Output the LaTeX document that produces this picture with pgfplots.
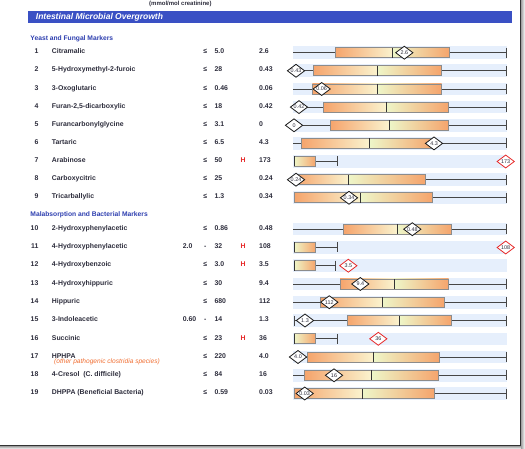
\documentclass[border=0pt]{standalone}
\usepackage{pgfplots}
\pgfplotsset{compat=1.18}
\usepackage{fontspec}
\setmainfont{Liberation Sans}
\definecolor{titlebg}{RGB}{58,80,196}
\definecolor{hdr}{RGB}{45,62,175}
\definecolor{txt}{RGB}{45,45,60}
\definecolor{band}{RGB}{230,239,252}
\definecolor{boxO}{RGB}{245,164,108}
\definecolor{boxL}{RGB}{250,243,206}
\definecolor{boxR}{RGB}{238,246,200}
\definecolor{boxedge}{RGB}{140,140,140}
\definecolor{whisk}{RGB}{70,70,70}
\definecolor{hired}{RGB}{230,40,40}
\definecolor{subor}{RGB}{240,110,50}
\newcommand{\rf}{\fontsize{6.9}{8}\selectfont\bfseries}

% full box row: yc, lw, q1, med, q3, uw
\newcommand{\brow}[6]{%
 \pgfmathsetmacro\bT{#1-6.3}\pgfmathsetmacro\bB{#1+6.3}%
 \pgfmathsetmacro\xT{#1-5}\pgfmathsetmacro\xB{#1+5}%
 \edef\doit{%
  \noexpand\addplot[draw=none,fill=band] coordinates {(293,\bT)(507,\bT)(507,\bB)(293,\bB)} -- cycle;
  \noexpand\addplot[whisk, line width=0.7pt] coordinates {(#2,#1)(#3,#1)};
  \noexpand\addplot[whisk, line width=0.7pt] coordinates {(#5,#1)(#6,#1)};
  \noexpand\addplot[whisk, line width=0.9pt] coordinates {(#6,\xT)(#6,\xB)};
  \noexpand\addplot[draw=none, left color=boxO, right color=boxL] coordinates {(#3,\xT)(#4,\xT)(#4,\xB)(#3,\xB)} -- cycle;
  \noexpand\addplot[draw=none, left color=boxR, right color=boxO] coordinates {(#4,\xT)(#5,\xT)(#5,\xB)(#4,\xB)} -- cycle;
  \noexpand\addplot[boxedge, line width=0.7pt] coordinates {(#3,\xT)(#5,\xT)(#5,\xB)(#3,\xB)(#3,\xT)};
  \noexpand\addplot[black!80, line width=0.7pt] coordinates {(#4,\xT)(#4,\xB)};
 }\doit}
% short row (median at lower edge): yc, q1, q3, uw
\newcommand{\srow}[4]{%
 \pgfmathsetmacro\bT{#1-6.3}\pgfmathsetmacro\bB{#1+6.3}%
 \pgfmathsetmacro\xT{#1-5}\pgfmathsetmacro\xB{#1+5}%
 \edef\doit{%
  \noexpand\addplot[draw=none,fill=band] coordinates {(293,\bT)(507,\bT)(507,\bB)(293,\bB)} -- cycle;
  \noexpand\addplot[whisk, line width=0.7pt] coordinates {(#3,#1)(#4,#1)};
  \noexpand\addplot[whisk, line width=0.9pt] coordinates {(#4,\xT)(#4,\xB)};
  \noexpand\addplot[draw=none, left color=boxR, right color=boxO] coordinates {(#2,\xT)(#3,\xT)(#3,\xB)(#2,\xB)} -- cycle;
  \noexpand\addplot[boxedge, line width=0.7pt] coordinates {(#2,\xT)(#3,\xT)(#3,\xB)(#2,\xB)(#2,\xT)};
  \noexpand\addplot[black!80, line width=0.8pt] coordinates {(#2,\xT)(#2,\xB)};
 }\doit}
% text row: y(band centre), num, name, low, sym, high, flag, value
\newcommand{\trow}[8]{%
 \node[anchor=base east, font=\rf, text=txt] at (axis cs:38.6,#1+1.2) {#2};
 \node[anchor=base west, font=\rf, text=txt] at (axis cs:51.7,#1+1.2) {#3};
 \node[anchor=base west, font=\rf, text=txt] at (axis cs:182.7,#1+1.2) {#4};
 \node[anchor=base, font=\rf, text=txt] at (axis cs:205.2,#1+1.2) {#5};
 \node[anchor=base west, font=\rf, text=txt] at (axis cs:214.3,#1+1.2) {#6};
 \node[anchor=base, font=\rf, text=hired] at (axis cs:243,#1+1.2) {#7};
 \node[anchor=base west, font=\rf, text=txt] at (axis cs:259,#1+1.2) {#8};
}

\begin{document}
\begin{tikzpicture}[every node/.append style={inner sep=0pt}]
\begin{axis}[
  scale only axis, width=525pt, height=449pt,
  xmin=0, xmax=525, ymin=0, ymax=449, y dir=reverse,
  hide axis, clip=false,
]
% header
\node[anchor=base west, text=txt, font=\fontsize{6}{7}\selectfont\bfseries] at (axis cs:149,5.2) {(mmol/mol creatinine)};
\addplot[draw=none, fill=titlebg] coordinates {(28,10.8)(511.7,10.8)(511.7,23)(28,23)} -- cycle;
\node[anchor=base west, text=white, font=\fontsize{8.5}{9}\selectfont\bfseries\itshape] at (axis cs:35.7,19.8) {Intestinal Microbial Overgrowth};
\node[anchor=base west, text=hdr, font=\fontsize{6.7}{7}\selectfont\bfseries] at (axis cs:30.3,40.1) {Yeast and Fungal Markers};
\node[anchor=base west, text=hdr, font=\fontsize{6.7}{7}\selectfont\bfseries] at (axis cs:30.3,216.7) {Malabsorption and Bacterial Markers};

% box plots: yc, lw, q1, med, q3, uw
\brow{52.7}{293}{335}{392.7}{449.7}{506}
\brow{70.8}{293}{313}{377.3}{441.7}{506}
\brow{89.0}{293}{312.3}{377.3}{441.7}{506}
\brow{107.1}{293}{323.7}{386}{448.7}{506}
\brow{125.3}{293}{330}{389}{448.7}{506}
\brow{143.4}{293}{301}{369.7}{433.7}{506}
\srow{161.5}{294}{315.5}{337}
\brow{179.7}{294}{294}{348.3}{425.7}{506}
\brow{197.8}{294}{294}{360.3}{432.7}{506}
\brow{229.2}{293}{343.7}{397.3}{451.7}{506}
\srow{247.5}{294}{315.7}{337.7}
\srow{265.7}{294}{315.7}{335}
\brow{284.0}{293}{340}{394.3}{448.7}{506}
\brow{302.2}{293}{320}{382}{444}{506}
\brow{320.5}{294}{347}{399.3}{451.7}{506}
\addplot[whisk, line width=0.9pt] coordinates {(294,315.5)(294,325.5)};
\srow{338.8}{294}{315.7}{337.7}
\brow{357.0}{293}{307}{373.7}{439.7}{506}
\brow{375.3}{293}{304.7}{371.3}{438.7}{506}
\brow{393.5}{294}{294}{362.3}{434.3}{506}

% result diamonds
\addplot[only marks, mark=diamond*, mark size=8.6pt,
  mark options={rotate=90, fill=white, draw=black!90, line width=0.8pt},
  nodes near coords, point meta=explicit symbolic,
  every node near coord/.append style={anchor=center, font=\fontsize{5.4}{6}\selectfont, text=txt}]
  table[meta=lab] {
x y lab
404.3 52.7 2.6
296 70.8 0.43
321.7 89.0 0.06
299 107.1 0.42
294 125.3 0
434 143.4 4.3
296 179.7 0.24
349 197.8 0.34
412.3 229.2 0.48
360.3 284.0 9.4
329.3 302.2 112
305 320.5 1.3
298 357.0 4.0
334 375.3 16
304.7 393.5 0.03
};
\addplot[only marks, mark=diamond*, mark size=8.6pt,
  mark options={rotate=90, fill=white, draw=hired, line width=0.8pt},
  nodes near coords, point meta=explicit symbolic,
  every node near coord/.append style={anchor=center, font=\fontsize{5.4}{6}\selectfont, text=txt}]
  table[meta=lab] {
x y lab
505.7 161.5 173
505.7 247.5 108
348.3 265.7 3.5
378.3 338.8 36
};

% text rows
\trow{52.7}{1}{Citramalic}{}{≤}{5.0}{}{2.6}
\trow{70.8}{2}{5-Hydroxymethyl-2-furoic}{}{≤}{28}{}{0.43}
\trow{89.0}{3}{3-Oxoglutaric}{}{≤}{0.46}{}{0.06}
\trow{107.1}{4}{Furan-2,5-dicarboxylic}{}{≤}{18}{}{0.42}
\trow{125.3}{5}{Furancarbonylglycine}{}{≤}{3.1}{}{0}
\trow{143.4}{6}{Tartaric}{}{≤}{6.5}{}{4.3}
\trow{161.5}{7}{Arabinose}{}{≤}{50}{H}{173}
\trow{179.7}{8}{Carboxycitric}{}{≤}{25}{}{0.24}
\trow{197.8}{9}{Tricarballylic}{}{≤}{1.3}{}{0.34}
\trow{229.2}{10}{2-Hydroxyphenylacetic}{}{≤}{0.86}{}{0.48}
\trow{247.5}{11}{4-Hydroxyphenylacetic}{2.0}{-}{32}{H}{108}
\trow{265.7}{12}{4-Hydroxybenzoic}{}{≤}{3.0}{H}{3.5}
\trow{284.0}{13}{4-Hydroxyhippuric}{}{≤}{30}{}{9.4}
\trow{302.2}{14}{Hippuric}{}{≤}{680}{}{112}
\trow{320.5}{15}{3-Indoleacetic}{0.60}{-}{14}{}{1.3}
\trow{338.8}{16}{Succinic}{}{≤}{23}{H}{36}
\trow{357.0}{17}{HPHPA}{}{≤}{220}{}{4.0}
\trow{375.3}{18}{4-Cresol\ \ (C. difficile)}{}{≤}{84}{}{16}
\trow{393.5}{19}{DHPPA (Beneficial Bacteria)}{}{≤}{0.59}{}{0.03}
\node[anchor=base west, text=subor, font=\fontsize{6.6}{7}\selectfont\itshape] at (axis cs:54,363.8) {(other pathogenic clostridia species)};

% page frame with shadow
\addplot[draw=none, top color=gray!70, bottom color=white] coordinates {(0,446.2)(521.5,446.2)(521.5,449)(0,449)} -- cycle;
\addplot[draw=none, left color=gray!70, right color=white] coordinates {(521.2,0)(525,0)(525,449)(521.2,449)} -- cycle;
\addplot[gray!40!black, line width=1.3pt] coordinates {(520.6,0)(520.6,445.6)(0,445.6)};
\end{axis}
\pgfresetboundingbox
\path[use as bounding box] (current axis.south west) rectangle (current axis.north east);
\end{tikzpicture}
\end{document}
